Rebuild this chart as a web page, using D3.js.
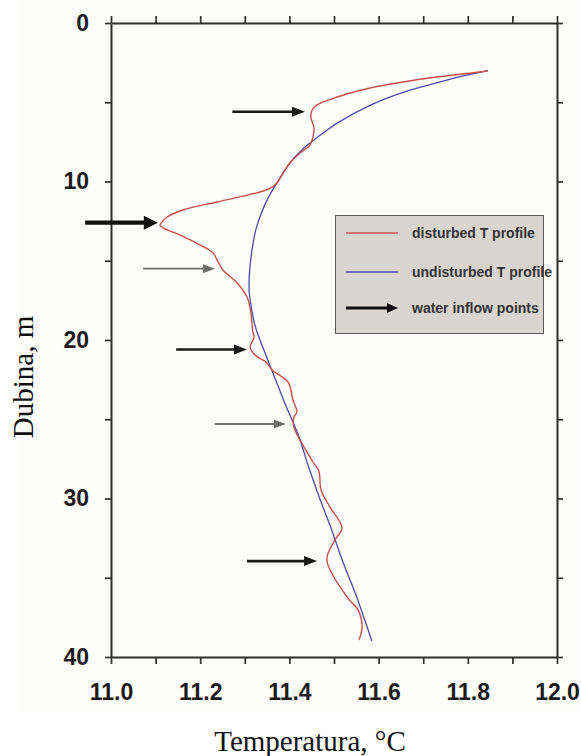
<!DOCTYPE html>
<html>
<head>
<meta charset="utf-8">
<script src="https://cdn.jsdelivr.net/npm/d3@7"></script>
<style>
  body { margin: 0; background: #ffffff; }
  svg { display: block; }
</style>
</head>
<body>
<div id="chart"></div>
<script>
// undisturbed profile: depth (m) and temperature (C)
var undistDepth = [3, 3.4, 3.8, 4.35, 5.17, 6.3, 7.1, 7.9, 8.8, 10, 11, 12, 13, 14, 15, 16, 17, 18, 19, 20, 21, 22, 24, 26, 28, 30, 32, 34, 36, 38, 39];
var undistTemp  = [11.845, 11.78, 11.728, 11.658, 11.583, 11.508, 11.468, 11.432, 11.402, 11.374, 11.353, 11.337, 11.325,
                   11.318, 11.313, 11.310, 11.310, 11.315, 11.322, 11.334, 11.348, 11.362, 11.39, 11.42, 11.443, 11.468,
                   11.495, 11.52, 11.548, 11.573, 11.585];

// disturbed (measured) profile
var distDepth = [3.03, 3.41, 3.72, 4.10, 4.67, 5.17, 5.49, 5.93, 6.6, 7.19, 7.70, 8.20, 8.83, 9.46, 10.09, 10.35, 10.66,
                 11.29, 11.80, 12.24, 12.56, 12.74, 12.93, 13.38, 14.01, 14.51, 14.95, 15.58, 16.40, 17.29, 17.98, 18.93,
                 19.50, 19.81, 20.44, 20.95, 21.45, 21.89, 22.65, 23.79, 24.54, 24.86, 25.49, 26.31, 27.70, 28.26, 29.46,
                 30.54, 31.86, 32.62, 33.88, 36.28, 37.03, 38.11, 38.93];
var distTemp  = [11.845, 11.731, 11.655, 11.581, 11.507, 11.462, 11.451, 11.448, 11.455, 11.453, 11.446, 11.424, 11.401, 11.386,
                 11.372, 11.361, 11.334, 11.238, 11.161, 11.126, 11.114, 11.110, 11.117, 11.155, 11.200, 11.229, 11.238,
                 11.251, 11.283, 11.305, 11.312, 11.316, 11.318, 11.321, 11.312, 11.323, 11.350, 11.361, 11.397, 11.408,
                 11.417, 11.410, 11.410, 11.424, 11.453, 11.466, 11.471, 11.491, 11.518, 11.502, 11.484, 11.531, 11.554,
                 11.563, 11.556];

// water inflow arrows: depth, start temp, tip temp, kind
var arrowDepth = [5.6, 12.6, 15.5, 20.6, 25.3, 33.95];
var arrowFrom  = [11.272, 10.942, 11.072, 11.146, 11.233, 11.305];
var arrowTo    = [11.435, 11.105, 11.233, 11.305, 11.392, 11.462];
var arrowKind  = ["black", "thick", "gray", "black", "gray", "black"];

var xTicks = d3.range(0, 11).map(function(i){ return 11 + i / 10; });
var yTicks = [0, 5, 10, 15, 20, 25, 30, 35, 40];

var legendLabels = ["disturbed T profile", "undisturbed T profile", "water inflow points"];

var width = 581, height = 756;
var redColor = "#c9504c", blueColor = "#4b4bab", axisColor = "#2e2e2e";

var svg = d3.select("#chart").append("svg")
  .attr("width", width)
  .attr("height", height);

// faint off-white panel behind the figure
svg.append("rect")
  .attr("x", 20).attr("y", 0)
  .attr("width", 558).attr("height", 712)
  .attr("fill", "#fdfdfb");

var x = d3.scaleLinear().domain([11, 12]).range([111, 557]);
var y = d3.scaleLinear().domain([0, 40]).range([23, 657]);

function styleAxis(g){
  g.select(".domain").attr("stroke", axisColor).attr("stroke-width", 2);
  g.selectAll(".tick line").attr("stroke", axisColor).attr("stroke-width", 1.7);
  g.selectAll(".tick text")
    .attr("fill", "#1a1a1a")
    .style("font-family", "'Liberation Sans', Arial, sans-serif")
    .style("font-weight", "bold")
    .style("font-size", "23px");
}

svg.append("g")
  .attr("transform", "translate(0," + y(40) + ")")
  .call(d3.axisBottom(x).tickValues(xTicks).tickSize(7).tickSizeOuter(0).tickPadding(20)
        .tickFormat(function(d, i){ return i % 2 === 0 ? d3.format(".1f")(d) : ""; }))
  .call(styleAxis);

svg.append("g")
  .attr("transform", "translate(0," + y(0) + ")")
  .call(d3.axisTop(x).tickValues(xTicks).tickSize(7).tickSizeOuter(0).tickFormat(""))
  .call(styleAxis);

svg.append("g")
  .attr("transform", "translate(" + x(11) + ",0)")
  .call(d3.axisLeft(y).tickValues(yTicks).tickSize(6).tickSizeOuter(0).tickPadding(16)
        .tickFormat(function(d){ return d % 10 === 0 ? d : ""; }))
  .call(styleAxis);

svg.append("g")
  .attr("transform", "translate(" + x(12) + ",0)")
  .call(d3.axisRight(y).tickValues(yTicks).tickSize(6).tickSizeOuter(0).tickFormat(""))
  .call(styleAxis);

// profiles
var line = d3.line()
  .x(function(d){ return x(d[1]); })
  .y(function(d){ return y(d[0]); })
  .curve(d3.curveCatmullRom.alpha(0.5));

svg.append("path")
  .datum(d3.zip(undistDepth, undistTemp))
  .attr("d", line)
  .attr("fill", "none")
  .attr("stroke", blueColor)
  .attr("stroke-width", 1.3);

svg.append("path")
  .datum(d3.zip(distDepth, distTemp))
  .attr("d", line)
  .attr("fill", "none")
  .attr("stroke", redColor)
  .attr("stroke-width", 1.4);

// arrow drawing helper
var arrowStyle = {
  black: { color: "#1a1a1a", width: 2.6, head: 13, half: 5 },
  thick: { color: "#111111", width: 4.2, head: 14, half: 7 },
  gray:  { color: "#6e6e6e", width: 1.8, head: 12, half: 4.5 }
};

function drawArrow(g, x0, x1, yy, st){
  g.append("line")
    .attr("x1", x0).attr("x2", x1 - st.head + 1)
    .attr("y1", yy).attr("y2", yy)
    .attr("stroke", st.color)
    .attr("stroke-width", st.width);
  g.append("path")
    .attr("d", "M" + x1 + "," + yy + "L" + (x1 - st.head) + "," + (yy - st.half) +
               "L" + (x1 - st.head) + "," + (yy + st.half) + "Z")
    .attr("fill", st.color);
}

var arrows = svg.append("g");
arrowDepth.forEach(function(d, i){
  drawArrow(arrows, x(arrowFrom[i]), x(arrowTo[i]), y(d), arrowStyle[arrowKind[i]]);
});

// legend
var legend = svg.append("g");
legend.append("rect")
  .attr("x", 335.5).attr("y", 215.5)
  .attr("width", 208).attr("height", 118)
  .attr("fill", "#d9d6d2")
  .attr("stroke", "#5a5a5a")
  .attr("stroke-width", 1);

var legendY = [233, 272, 308];
legend.append("line")
  .attr("x1", 346).attr("x2", 398).attr("y1", legendY[0]).attr("y2", legendY[0])
  .attr("stroke", redColor).attr("stroke-width", 1.4);
legend.append("line")
  .attr("x1", 346).attr("x2", 398).attr("y1", legendY[1]).attr("y2", legendY[1])
  .attr("stroke", blueColor).attr("stroke-width", 1.3);
drawArrow(legend, 346, 398, legendY[2], { color: "#111", width: 3, head: 11, half: 5 });

legend.selectAll("text")
  .data(legendLabels)
  .enter().append("text")
  .attr("x", 412)
  .attr("y", function(d, i){ return legendY[i] + 5; })
  .attr("fill", "#333")
  .style("font-family", "'Liberation Sans Narrow', 'Arial Narrow', 'Liberation Sans', sans-serif")
  .style("font-weight", "bold")
  .style("font-size", "14px")
  .text(function(d){ return d; });

// axis titles
svg.append("text")
  .attr("x", 310).attr("y", 751)
  .attr("text-anchor", "middle")
  .style("font-family", "'Liberation Serif', 'Times New Roman', serif")
  .style("font-size", "29px")
  .attr("fill", "#111")
  .text("Temperatura, °C");

svg.append("text")
  .attr("transform", "translate(33,377) rotate(-90)")
  .attr("text-anchor", "middle")
  .style("font-family", "'Liberation Serif', 'Times New Roman', serif")
  .style("font-size", "29px")
  .attr("fill", "#111")
  .text("Dubina, m");
</script>
</body>
</html>
